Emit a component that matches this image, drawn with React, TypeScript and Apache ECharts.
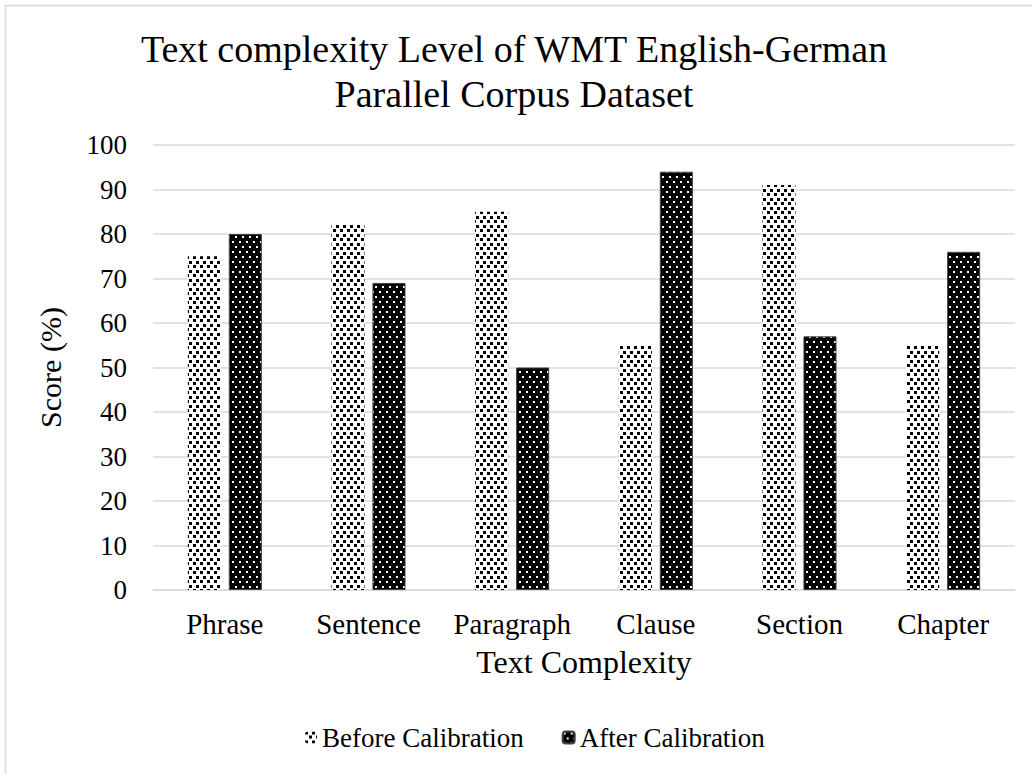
import React, { useEffect, useRef } from "react";
import * as echarts from "echarts";

const categories = ["Phrase", "Sentence", "Paragraph", "Clause", "Section", "Chapter"];
const beforeValues = [75, 82, 85, 55, 91, 55];
const afterValues = [80, 69, 50, 94, 57, 76];
const yTicks = [0, 10, 20, 30, 40, 50, 60, 70, 80, 90, 100];

const FONT = "'Liberation Serif', 'Times New Roman', serif";

function makeBeforePattern() {
  const c = document.createElement("canvas");
  c.width = 7;
  c.height = 9;
  const ctx = c.getContext("2d")!;
  ctx.fillStyle = "#ffffff";
  ctx.fillRect(0, 0, 7, 9);
  ctx.fillStyle = "#000000";
  ctx.fillRect(0, 0, 3, 3);
  ctx.fillRect(4, 4, 3, 3);
  return c;
}

function makeAfterPattern() {
  const c = document.createElement("canvas");
  c.width = 7;
  c.height = 10;
  const ctx = c.getContext("2d")!;
  ctx.fillStyle = "#000000";
  ctx.fillRect(0, 0, 7, 10);
  ctx.fillStyle = "#ffffff";
  ctx.fillRect(1, 1, 2, 2);
  ctx.fillRect(4, 6, 2, 2);
  return c;
}

export default function App() {
  const ref = useRef<HTMLDivElement>(null);
  useEffect(() => {
    if (!ref.current) return;
    const chart = echarts.init(ref.current, null, { renderer: "svg" });
    const beforeColor: any = { image: makeBeforePattern(), repeat: "repeat" };
    const afterColor: any = { image: makeAfterPattern(), repeat: "repeat" };
    chart.setOption({
      animation: false,
      backgroundColor: "#ffffff",
      textStyle: { fontFamily: FONT, color: "#000" },
      graphic: [
        {
          type: "rect",
          shape: { x: 5.5, y: 5.5, width: 1040, height: 790 },
          style: { fill: "none", stroke: "#d9d9d9", lineWidth: 1.5 },
          silent: true,
        },
      ],
      title: {
        text: "Text complexity Level of WMT English-German\nParallel Corpus Dataset",
        left: 509,
        top: 21,
        textAlign: "center",
        textStyle: {
          fontFamily: FONT,
          fontSize: 38,
          fontWeight: "normal",
          color: "#000",
          lineHeight: 45,
        },
      },
      legend: {
        bottom: 18,
        left: 300,
        itemWidth: 12,
        itemHeight: 12,
        itemGap: 38,
        textStyle: { fontFamily: FONT, fontSize: 27, color: "#000" },
        data: [
          { name: "Before Calibration", itemStyle: { color: beforeColor } },
          { name: "After Calibration", itemStyle: { color: afterColor } },
        ],
      },
      grid: { left: 153, right: 17, top: 145, bottom: 184, containLabel: false },
      xAxis: {
        type: "category",
        data: categories,
        name: "Text Complexity",
        nameLocation: "middle",
        nameGap: 56,
        nameTextStyle: { fontFamily: FONT, fontSize: 32, color: "#000" },
        axisLine: { lineStyle: { color: "#d9d9d9", width: 1.5 } },
        axisTick: { show: false },
        axisLabel: { fontFamily: FONT, fontSize: 29, color: "#000", margin: 19, interval: 0 },
      },
      yAxis: {
        type: "value",
        min: 0,
        max: 100,
        interval: 10,
        name: "Score (%)",
        nameLocation: "middle",
        nameGap: 88,
        nameTextStyle: { fontFamily: FONT, fontSize: 30, color: "#000" },
        axisLine: { show: false },
        axisTick: { show: false },
        splitLine: { lineStyle: { color: "#d9d9d9", width: 1.5 } },
        axisLabel: {
          fontFamily: FONT,
          fontSize: 27,
          color: "#000",
          margin: 26,
          formatter: (v: number) => (yTicks.includes(v) ? String(v) : ""),
        },
      },
      series: [
        {
          name: "Before Calibration",
          type: "bar",
          data: beforeValues,
          barWidth: "23%",
          barGap: "24%",
          itemStyle: { color: beforeColor },
        },
        {
          name: "After Calibration",
          type: "bar",
          data: afterValues,
          barWidth: "23%",
          itemStyle: { color: afterColor, borderColor: "#404040", borderWidth: 1 },
        },
      ],
    });
    return () => chart.dispose();
  }, []);
  return (
    <div
      ref={ref}
      style={{ position: "absolute", left: 0, top: 0, width: 1032, height: 774 }}
    />
  );
}
